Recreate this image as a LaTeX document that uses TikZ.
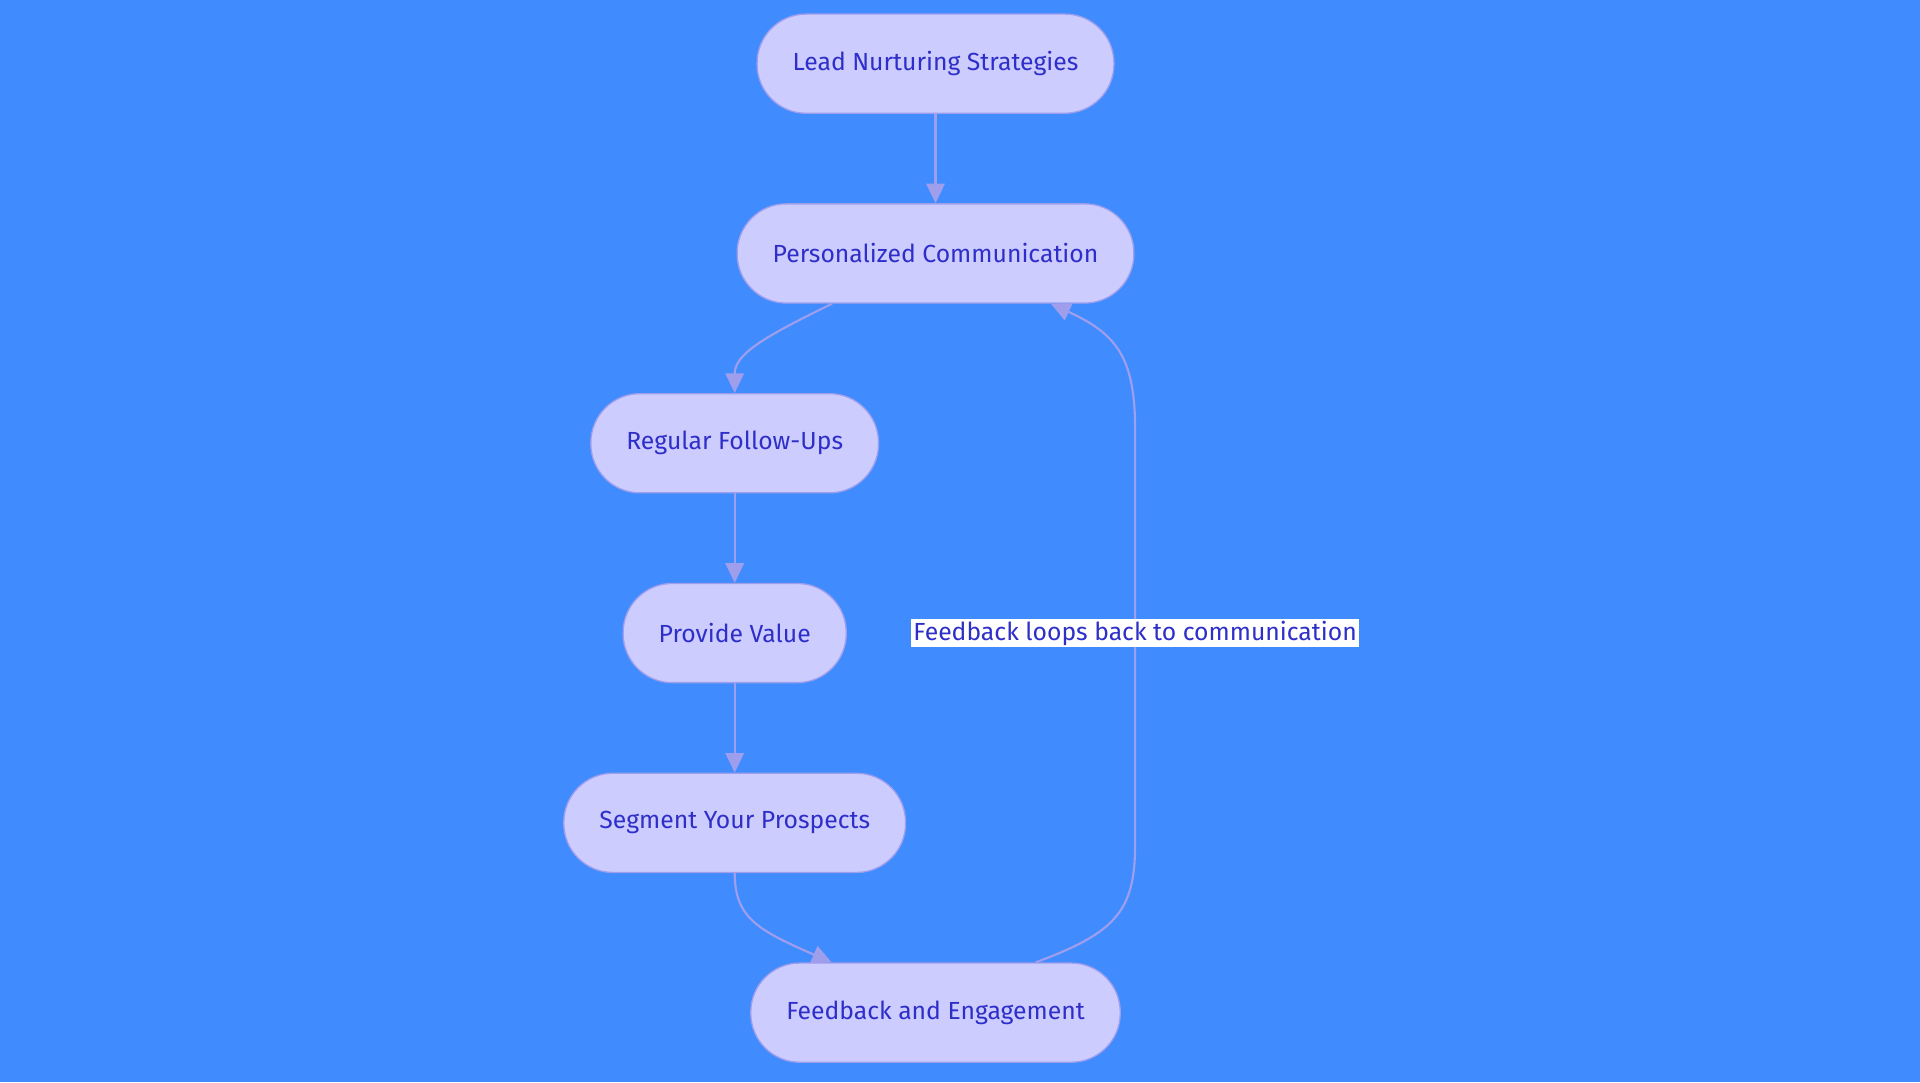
\documentclass[tikz,border=0pt]{standalone}
\usepackage{fontspec}
\setmainfont{Fira Sans}
\usetikzlibrary{positioning,calc,arrows.meta}
\definecolor{bgblue}{HTML}{408CFF}
\definecolor{boxfill}{HTML}{CCCCFF}
\definecolor{boxline}{HTML}{9E9EEC}
\definecolor{boxtext}{HTML}{2E2EC8}
\tikzset{
  stage/.style={draw=boxline, fill=boxfill, text=boxtext, line width=0.6pt,
    rounded corners=0.8cm, minimum height=1.62cm, inner xsep=0.58cm,
    font=\fontsize{11.5}{13}\selectfont},
  flow/.style={draw=boxline, line width=1pt, -{Triangle[length=0.32cm,width=0.3cm]}},
}
\begin{document}
\begin{tikzpicture}[x=0.02cm, y=-0.02cm]
  \fill[bgblue] (0,0) rectangle (1568,884);
  \node[stage] (lead) at (764,52) {Lead Nurturing Strategies};
  \node[stage] (pers) at (764,207) {Personalized Communication};
  \node[stage] (follow) at (600,362) {Regular Follow-Ups};
  \node[stage] (value) at (600,517) {Provide Value};
  \node[stage] (segment) at (600,672) {Segment Your Prospects};
  \node[stage] (feedback) at (764,827) {Feedback and Engagement};
  % connectors
  \draw[flow] (lead) -- (pers);
  \draw[flow] ($(pers.south)!0.52!(pers.south west)$) .. controls (620,277) and (600,290) .. (follow.north);
  \draw[flow] (follow) -- (value);
  \draw[flow] (value) -- (segment);
  \draw[flow] (segment.south) .. controls (600,750) and (620,760) .. ($(feedback.north)!0.56!(feedback.north west)$);
  \draw[flow] ($(feedback.north)!0.54!(feedback.north east)$) .. controls (910,762) and (927,745) .. (927,690)
    -- (927,350) .. controls (927,290) and (910,272) .. ($(pers.south)!0.58!(pers.south east)$);
  \node[fill=white, text=boxtext, inner sep=1pt, font=\fontsize{11.5}{13}\selectfont] (loop) at (927,517) {Feedback loops back to communication};
\end{tikzpicture}
\end{document}
